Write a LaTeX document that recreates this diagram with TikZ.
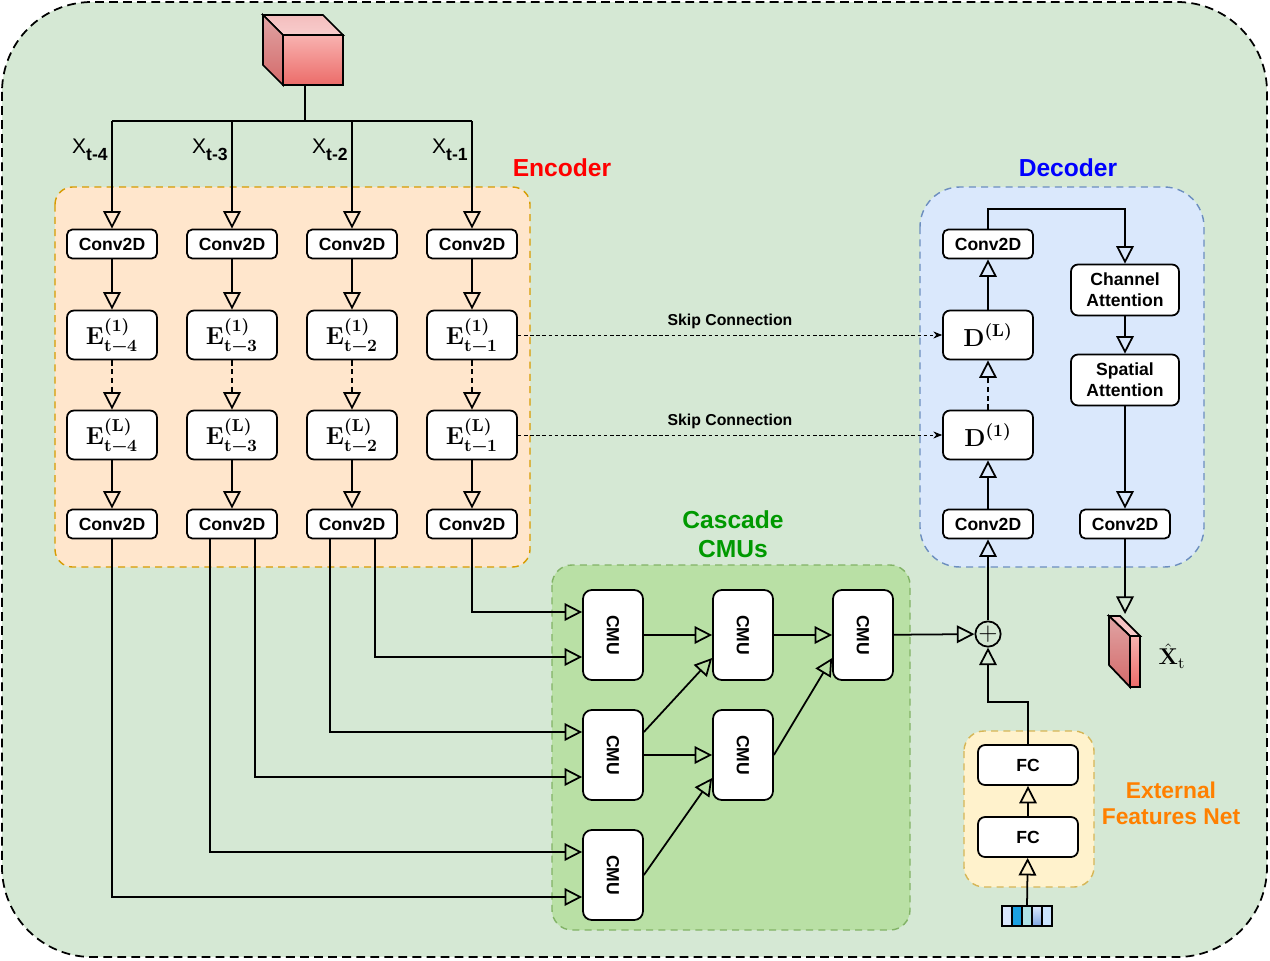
\documentclass[tikz,border=0pt]{standalone}
\usepackage{amsmath}
\usepackage{fontspec}
\setsansfont{Liberation Sans}
\usetikzlibrary{arrows.meta,calc}

\definecolor{bggreen}{HTML}{D5E8D4}
\definecolor{encfill}{HTML}{FFE6CC}
\definecolor{encline}{HTML}{D79B00}
\definecolor{decfill}{HTML}{DAE8FC}
\definecolor{decline}{HTML}{6C8EBF}
\definecolor{casfill}{HTML}{B9E0A5}
\definecolor{casline}{HTML}{82B366}
\definecolor{extfill}{HTML}{FFF2CC}
\definecolor{extline}{HTML}{D6B656}
\definecolor{casgreen}{HTML}{009900}
\definecolor{extorange}{HTML}{FF8000}
\definecolor{cubetopA}{HTML}{F4BEBE}
\definecolor{cubetopB}{HTML}{F8CCCC}
\definecolor{cubesideA}{HTML}{E0A4A4}
\definecolor{cubesideB}{HTML}{D46A6A}
\definecolor{cubefrontA}{HTML}{F8B2B0}
\definecolor{cubefrontB}{HTML}{EC6C69}
\definecolor{vecA}{HTML}{DAE8FC}
\definecolor{vecB}{HTML}{1BA1E2}
\definecolor{vecC}{HTML}{B0E3E6}
\definecolor{vecD}{HTML}{7EA6E0}
\definecolor{vecE}{HTML}{CCE5FF}

\newcommand{\bfm}[1]{\text{\rmfamily\bfseries #1}}
\newcommand{\xin}[1]{\sffamily\fontsize{12}{14}\selectfont X\raisebox{-0.6ex}{\bfseries\fontsize{10}{12}\selectfont t-#1}}
\newcommand{\eone}[1]{$\bfm{E}^{\bfm{(1)}}_{\bfm{t\textminus#1}}$}
\newcommand{\elast}[1]{$\bfm{E}^{\bfm{(L)}}_{\bfm{t\textminus#1}}$}

\begin{document}
\begin{tikzpicture}[x=0.02cm, y=-0.02cm,
    block/.style={draw, fill=white, line width=1pt, rounded corners=3pt,
                font=\sffamily\bfseries\fontsize{10}{12}\selectfont, inner sep=0pt},
    convbox/.style={block, minimum width=1.8cm, minimum height=0.58cm},
    encbox/.style={block, minimum width=1.8cm, minimum height=0.98cm, rounded corners=4pt, font=\fontsize{14}{16}\selectfont},
    attbox/.style={block, minimum width=2.16cm, minimum height=1.02cm, rounded corners=4pt, align=center},
    cmubox/.style={block, minimum width=1.2cm, minimum height=1.8cm, rounded corners=5pt},
    fcbox/.style={block, minimum width=2cm, minimum height=0.8cm, rounded corners=4pt},
    arr/.style={line width=1pt, -{Triangle[open, width=10pt, length=10pt]}},
    skiparr/.style={line width=0.5pt, dash pattern=on 2pt off 1.5pt, -{Stealth[length=5pt, width=4pt]}},
    region/.style={line width=0.8pt, dash pattern=on 4pt off 3pt},
    title/.style={font=\sffamily\bfseries\fontsize{14}{16.5}\selectfont, align=center}]
\useasboundingbox (0,0) rectangle (1270,960);
\draw[line width=1pt, dash pattern=on 5pt off 3pt, fill=bggreen, rounded corners=1.8cm] (2,2) rectangle (1267,957);

% regions
\draw[region, draw=encline, fill=encfill, rounded corners=0.35cm] (55,187) rectangle (530,567);
\draw[region, draw=decline, fill=decfill, rounded corners=0.8cm] (920,187) rectangle (1204,567);
\draw[region, draw=casline, fill=casfill, rounded corners=0.4cm] (552,565) rectangle (910,930);
\draw[region, draw=extline, fill=extfill, rounded corners=0.4cm] (964,731) rectangle (1094,887);

\node[title, text=red] (enctitle) at (562,168) {Encoder};
\node[title, text=blue] (dectitle) at (1068,168) {Decoder};
\node[title, text=casgreen] (castitle) at (733,534) {Cascade\\CMUs};
\node[title, text=extorange, font=\sffamily\bfseries\fontsize{13}{14.7}\selectfont] (exttitle) at (1171,803) {External\\Features Net};

% input cube
\draw[line width=1pt, top color=cubetopA, bottom color=cubetopB] (263,15) -- (323,15) -- (343,35) -- (283,35) -- cycle;
\draw[line width=1pt, top color=cubesideA, bottom color=cubesideB] (263,15) -- (283,35) -- (283,85) -- (263,65) -- cycle;
\draw[line width=1pt, top color=cubefrontA, bottom color=cubefrontB] (283,35) rectangle (343,85);
\coordinate (src) at (305,85);
\coordinate (bus) at (305,121);

% encoder
\node[convbox] (cin4) at (112,244) {Conv2D};
\node[convbox] (cin3) at (232,244) {Conv2D};
\node[convbox] (cin2) at (352,244) {Conv2D};
\node[convbox] (cin1) at (472,244) {Conv2D};
\node[encbox] (ea4) at (112,335) {\eone{4}};
\node[encbox] (ea3) at (232,335) {\eone{3}};
\node[encbox] (ea2) at (352,335) {\eone{2}};
\node[encbox] (ea1) at (472,335) {\eone{1}};
\node[encbox] (eb4) at (112,435) {\elast{4}};
\node[encbox] (eb3) at (232,435) {\elast{3}};
\node[encbox] (eb2) at (352,435) {\elast{2}};
\node[encbox] (eb1) at (472,435) {\elast{1}};
\node[convbox] (cout4) at (112,524) {Conv2D};
\node[convbox] (cout3) at (232,524) {Conv2D};
\node[convbox] (cout2) at (352,524) {Conv2D};
\node[convbox] (cout1) at (472,524) {Conv2D};
\node[anchor=east, inner sep=0pt] (x4) at (108,150) {\xin{4}};
\node[anchor=east, inner sep=0pt] (x3) at (228,150) {\xin{3}};
\node[anchor=east, inner sep=0pt] (x2) at (348,150) {\xin{2}};
\node[anchor=east, inner sep=0pt] (x1) at (468,150) {\xin{1}};

\draw[line width=1pt] (src) -- (bus);
\draw[line width=1pt] (cin4.north |- bus) -- (cin1.north |- bus);
\foreach \n in {4,3,2,1} {
  \draw[arr] (cin\n.north |- bus) -- (cin\n);
  \draw[arr] (cin\n) -- (ea\n);
  \draw[arr, dash pattern=on 3pt off 2pt] (ea\n) -- (eb\n);
  \draw[arr] (eb\n) -- (cout\n);
}

% decoder
\node[convbox] (dconv) at (988,524) {Conv2D};
\node[encbox] (d1) at (988,435) {$\bfm{D}^{\bfm{(1)}}$};
\node[encbox] (dl) at (988,335) {$\bfm{D}^{\bfm{(L)}}$};
\node[convbox] (dtop) at (988,244) {Conv2D};
\node[attbox] (ca) at (1125,290) {Channel\\Attention};
\node[attbox] (sa) at (1125,380) {Spatial\\Attention};
\node[convbox] (dout) at (1125,524) {Conv2D};
\draw[arr] (dconv) -- (d1);
\draw[arr, dash pattern=on 3pt off 2pt] (d1) -- (dl);
\draw[arr] (dl) -- (dtop);
\draw[arr] (dtop.north) -- ++(0,-20) -| (ca.north);
\draw[arr] (ca) -- (sa);
\draw[arr] (sa) -- (dout);

% output slab
\draw[line width=1pt, top color=cubetopA, bottom color=cubetopB] (1109,616) -- (1120,616) -- (1140,636) -- (1130,636) -- cycle;
\draw[line width=1pt, top color=cubesideA, bottom color=cubesideB] (1109,616) -- (1130,636) -- (1130,687) -- (1109,665) -- cycle;
\draw[line width=1pt, top color=cubefrontA, bottom color=cubefrontB] (1130,636) rectangle (1140,687);
\coordinate (out) at (1125,614);
\draw[arr] (dout) -- (out);
\node[font=\fontsize{13}{15}\selectfont] (xhat) at (1172,656) {$\hat{\bfm{X}}_{\mathrm{t}}$};

% skip connections
\draw[skiparr] (ea1) -- node[above, font=\sffamily\bfseries\fontsize{9}{11}\selectfont] (sk1) {Skip Connection} (dl);
\draw[skiparr] (eb1) -- node[above, font=\sffamily\bfseries\fontsize{9}{11}\selectfont] (sk2) {Skip Connection} (d1);

% cascade CMUs
\node[cmubox] (cmu11) at (613,635) {\rotatebox{-90}{CMU}};
\node[cmubox] (cmu12) at (743,635) {\rotatebox{-90}{CMU}};
\node[cmubox] (cmu13) at (863,635) {\rotatebox{-90}{CMU}};
\node[cmubox] (cmu21) at (613,755) {\rotatebox{-90}{CMU}};
\node[cmubox] (cmu22) at (743,755) {\rotatebox{-90}{CMU}};
\node[cmubox] (cmu31) at (613,875) {\rotatebox{-90}{CMU}};

\draw[arr] (cout1.south) |- ($(cmu11.west)+(0,-23)$);
\draw[arr] ($(cout2.south)+(23,0)$) |- ($(cmu11.west)+(0,22)$);
\draw[arr] ($(cout2.south)+(-22,0)$) |- ($(cmu21.west)+(0,-23)$);
\draw[arr] ($(cout3.south)+(23,0)$) |- ($(cmu21.west)+(0,22)$);
\draw[arr] ($(cout3.south)+(-22,0)$) |- ($(cmu31.west)+(0,-23)$);
\draw[arr] (cout4.south) |- ($(cmu31.west)+(0,22)$);

\draw[arr] (cmu11) -- (cmu12);
\draw[arr] ($(cmu21.east)+(0,-23)$) -- ($(cmu12.west)+(0,23)$);
\draw[arr] (cmu21) -- (cmu22);
\draw[arr] (cmu31.east) -- ($(cmu22.west)+(0,23)$);
\draw[arr] (cmu12) -- (cmu13);
\draw[arr] (cmu22.east) -- ($(cmu13.west)+(0,23)$);

% fusion
\node[circle, draw, line width=1pt, minimum size=0.5cm, inner sep=0pt, font=\Large] (sum) at (988,634) {$+$};
\draw[arr] (cmu13) -- (sum);
\draw[arr] (sum) -- (dconv);

% external features
\node[fcbox] (fc2) at (1028,765) {FC};
\node[fcbox] (fc1) at (1028,837) {FC};
\draw[line width=0.8pt, fill=vecA] (1002,906) rectangle (1012,926);
\draw[line width=0.8pt, fill=vecB] (1012,906) rectangle (1022,926);
\draw[line width=0.8pt, fill=vecC] (1022,906) rectangle (1032,926);
\draw[line width=0.8pt, top color=vecA, bottom color=vecD] (1032,906) rectangle (1042,926);
\draw[line width=0.8pt, fill=vecE] (1042,906) rectangle (1052,926);
\coordinate (feat) at (1027,906);
\draw[arr] (feat) -- (fc1);
\draw[arr] (fc1) -- (fc2);
\draw[arr] (fc2.north) -- ++(0,-42) -| (sum.south);
\end{tikzpicture}
\end{document}
